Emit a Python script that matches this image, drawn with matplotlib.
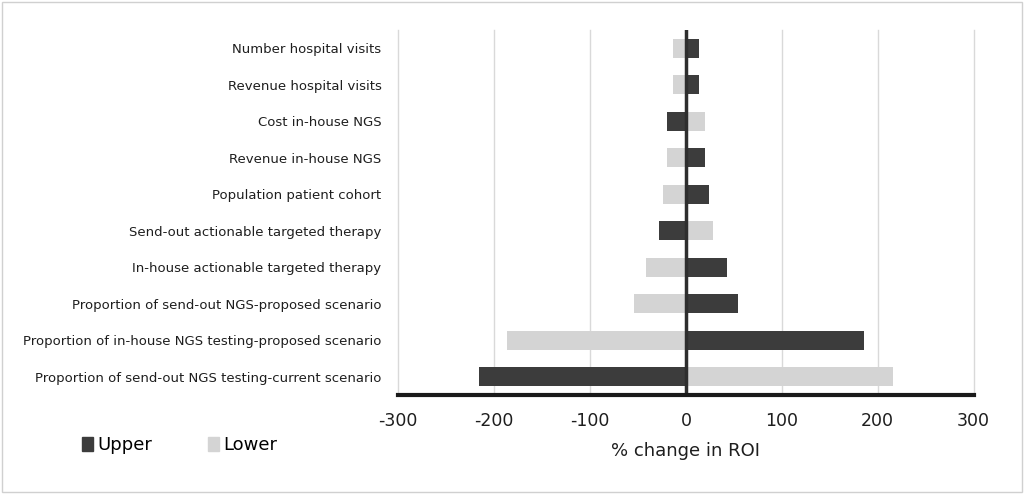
import matplotlib.pyplot as plt
from matplotlib.patches import Patch, Rectangle

# Werte (oben nach unten)
kategorien = ['Number hospital visits', 'Revenue hospital visits', 'Cost in-house NGS',
              'Revenue in-house NGS', 'Population patient cohort',
              'Send-out actionable targeted therapy', 'In-house actionable targeted therapy',
              'Proportion of send-out NGS-proposed scenario',
              'Proportion of in-house NGS testing-proposed scenario',
              'Proportion of send-out NGS testing-current scenario']
upper = [14, 14, -20, 20, 24, -28, 43, 54, 186, -216]
lower = [-13, -13, 20, -20, -24, 28, -42, -54, -186, 216]
x_ticks = [-300, -200, -100, 0, 100, 200, 300]

farbe_upper = '#3c3c3c'
farbe_lower = '#d4d4d4'

fig = plt.figure(figsize=(10.26, 4.98), dpi=100)
ax = fig.add_axes([0.388, 0.207, 0.561, 0.733])

pos = list(range(len(kategorien)))
ax.barh(pos, lower, height=0.52, color=farbe_lower, zorder=2)
ax.barh(pos, upper, height=0.52, color=farbe_upper, zorder=3)

ax.set_xlim(-300, 300)
ax.set_ylim(len(kategorien) - 0.5, -0.5)
ax.set_yticks(pos)
ax.set_yticklabels(kategorien, fontsize=9.5, color='#1e1e1e')
ax.set_xticks(x_ticks)
ax.set_xticklabels([str(t) for t in x_ticks], fontsize=12.5, color='#1e1e1e')
ax.tick_params(axis='both', length=0)
ax.tick_params(axis='y', pad=12)
ax.tick_params(axis='x', pad=12)

for t in x_ticks:
    if t != 0:
        ax.axvline(t, color='#d9d9d9', lw=1, zorder=1, clip_on=False)
ax.axvline(0, color='#2e2e2e', lw=2.5, zorder=4)

for s in ['top', 'right', 'left']:
    ax.spines[s].set_visible(False)
ax.spines['bottom'].set_linewidth(3)
ax.spines['bottom'].set_color('#1a1a1a')
ax.spines['bottom'].set_zorder(5)

ax.set_xlabel('% change in ROI', fontsize=13, color='#1e1e1e', labelpad=9)

handles = [Patch(color=farbe_upper, label='Upper'), Patch(color=farbe_lower, label='Lower')]
fig.legend(handles=handles, loc='center left', bbox_to_anchor=(0.064, 0.106), ncol=2,
           frameon=False, fontsize=13, handlelength=0.6, handleheight=0.8,
           handletextpad=0.25, columnspacing=3.1)

# Rahmen um die Abbildung
fig.patches.append(Rectangle((0.002, 0.012), 0.994, 0.984, transform=fig.transFigure,
                             fill=False, edgecolor='#d0d0d0', lw=1))

fig.savefig('out.png', dpi=100)
